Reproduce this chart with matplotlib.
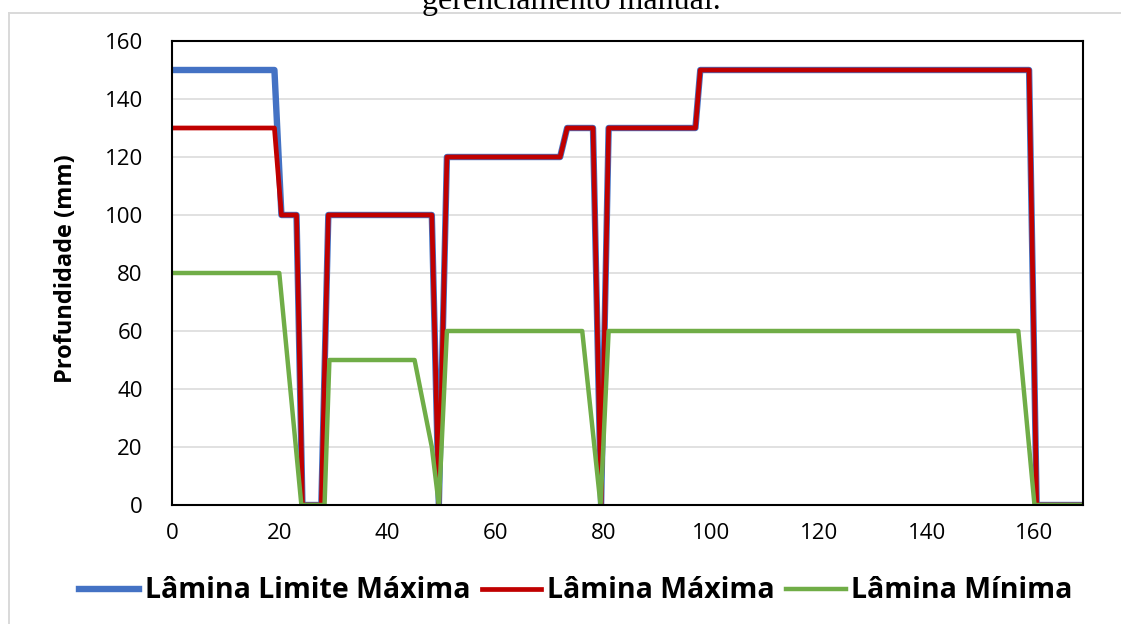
import matplotlib
matplotlib.use("Agg")
import matplotlib.pyplot as plt
from matplotlib.lines import Line2D

# depth limits (mm) over the days of the cycle
dias_max = [0, 19, 20.3, 23.1, 24.2, 27.7, 29, 48.2, 49.5, 51, 72, 73.3,
            78.1, 79.6, 81, 97.1, 98, 159, 160.4, 169]
lamina_limite_max = [150, 150, 100, 100, 0, 0, 100, 100, 0, 120, 120, 130,
                     130, 0, 130, 130, 150, 150, 0, 0]
lamina_max = [130, 130, 100, 100, 0, 0, 100, 100, 0, 120, 120, 130,
              130, 0, 130, 130, 150, 150, 0, 0]

dias_min = [0, 19.9, 24, 28.3, 29.2, 45, 48.2, 49.5, 51, 76.1, 79.5, 81,
            157, 160, 169]
lamina_min = [80, 80, 0, 0, 50, 50, 20, 0, 60, 60, 0, 60, 60, 0, 0]

W, H = 1121, 624
fig = plt.figure(figsize=(W / 100, H / 100), dpi=100)

# caption line cut by the chart frame
fig.text(571 / W, 1 - 9 / H, "gerenciamento manual.", ha="center",
         va="baseline", family="Liberation Serif", fontsize=23)

# light chart-area border (top and left)
fig.add_artist(Line2D([9 / W, 1], [1 - 13 / H, 1 - 13 / H],
                      color="#d9d9d9", lw=1.4))
fig.add_artist(Line2D([9 / W, 9 / W], [0, 1 - 13 / H],
                      color="#d9d9d9", lw=1.4))

ax = fig.add_axes([172 / W, 1 - 505 / H, (1083 - 172) / W, (505 - 41) / H])

ax.plot(dias_max, lamina_limite_max, color="#4472C4", lw=4.6,
        solid_joinstyle="round", label="Lâmina Limite Máxima")
ax.plot(dias_max, lamina_max, color="#C00000", lw=3.4,
        solid_joinstyle="round", label="Lâmina Máxima")
ax.plot(dias_min, lamina_min, color="#70AD47", lw=3.2,
        solid_joinstyle="round", label="Lâmina Mínima")

ax.set_xlim(0, 169)
ax.set_ylim(0, 160)
ax.set_xticks(range(0, 161, 20))
ax.set_yticks(range(0, 161, 20))
ax.grid(axis="y", color="#d9d9d9", lw=1.1)
ax.set_axisbelow(True)
for s in ax.spines.values():
    s.set_color("black")
    s.set_linewidth(1.5)

ax.tick_params(axis="both", length=0, labelsize=16)
ax.tick_params(axis="y", pad=21)
ax.tick_params(axis="x", pad=13)
for lab in ax.get_xticklabels() + ax.get_yticklabels():
    lab.set_family("Open Sans")

ax.set_ylabel("Profundidade (mm)", family="Open Sans", fontweight="bold",
              fontsize=17)
ax.yaxis.set_label_coords(-0.103, 0.51)

fig.legend(loc="center", bbox_to_anchor=(576 / W, 1 - 591 / H), ncol=3,
           frameon=False, handlelength=2.1, handletextpad=0.2,
           columnspacing=0.4,
           prop={"family": "Open Sans", "weight": "bold", "size": 20.5})

fig.savefig("out.png", dpi=100, facecolor="white")
